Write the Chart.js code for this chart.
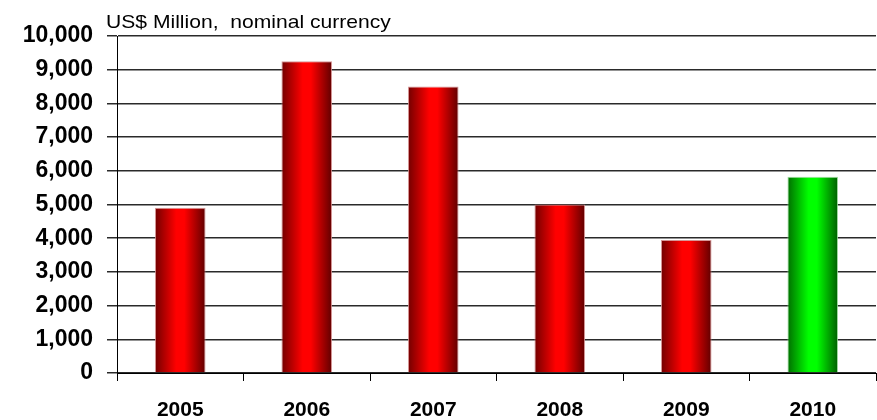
<!DOCTYPE html>
<html>
<head>
<meta charset="utf-8">
<title>Investment</title>
<script src="https://cdn.jsdelivr.net/npm/chart.js@4.4.0/dist/chart.umd.min.js"></script>
<style>
    html, body { margin: 0; padding: 0; background: #fff; }
    #wrap { width: 877px; height: 420px; position: relative; }
</style>
</head>
<body>
<div id="wrap"><canvas id="showGraphInvest"></canvas></div>
<script>
var years  = ['2005', '2006', '2007', '2008', '2009', '2010'];
var values = [4900, 9250, 8500, 5000, 3950, 5820];
var yTicks = [0, 1000, 2000, 3000, 4000, 5000, 6000, 7000, 8000, 9000, 10000];
var unitsLabel = 'US$ Million,  nominal currency';
var highlightYear = '2010';

var myChartInvest;

// cylinder-like shading across each bar
function barGradient(ctx) {
    var chart = ctx.chart;
    if (!chart.chartArea || ctx.dataIndex === undefined) return '#ff0000';
    var xs = chart.scales.x;
    var cx = xs.getPixelForValue(ctx.dataIndex);
    var half = (xs.width / years.length) * 0.4 / 2;
    var g = chart.ctx.createLinearGradient(cx - half, 0, cx + half, 0);
    if (years[ctx.dataIndex] === highlightYear) {
        g.addColorStop(0, '#006e00');
        g.addColorStop(0.42, '#00ff00');
        g.addColorStop(0.58, '#00ff00');
        g.addColorStop(1, '#005e00');
    } else {
        g.addColorStop(0, '#720000');
        g.addColorStop(0.42, '#ff0000');
        g.addColorStop(0.58, '#ff0000');
        g.addColorStop(1, '#600000');
    }
    return g;
}

// units caption above the value axis
var unitsTitle = {
    id: 'unitsTitle',
    afterDraw: function (chart) {
        var c = chart.ctx;
        c.save();
        c.font = '19px "Liberation Sans", Arial, sans-serif';
        c.fillStyle = '#000';
        c.textBaseline = 'alphabetic';
        c.textAlign = 'left';
        c.translate(106, 28);
        c.scale(1.11, 1);
        c.fillText(unitsLabel, 0, 0);
        c.restore();
    }
};

function showInvestData() {
    var data = {
        labels: years,
        datasets: [{
            data: values,
            backgroundColor: barGradient,
            borderColor: function (ctx) {
                return years[ctx.dataIndex] === highlightYear ? 'rgba(150,220,150,0.9)' : 'rgba(210,140,140,0.9)';
            },
            borderWidth: 1,
            barPercentage: 0.4,
            categoryPercentage: 1.0
        }]
    };
    var config = {
        type: 'bar',
        data: data,
        plugins: [unitsTitle],
        options: {
            responsive: true,
            maintainAspectRatio: false,
            animation: false,
            layout: { padding: { top: 36, right: 1, left: 0, bottom: 0 } },
            plugins: {
                legend: { display: false },
                tooltip: { enabled: false }
            },
            scales: {
                x: {
                    offset: true,
                    afterFit: function (axis) { axis.height = 47; },
                    grid: {
                        offset: true,
                        drawOnChartArea: true,
                        color: function (ctx) {
                            return ctx.index === years.length ? '#000' : 'rgba(0,0,0,0)';
                        },
                        tickColor: '#000',
                        tickLength: 8,
                        lineWidth: 1
                    },
                    border: { display: true, color: '#000', width: 1 },
                    ticks: {
                        color: '#000',
                        padding: 17,
                        font: { family: '"Liberation Sans", Arial, sans-serif', size: 21, weight: 'bold' }
                    }
                },
                y: {
                    min: 0,
                    max: 10000,
                    afterBuildTicks: function (axis) {
                        axis.ticks = yTicks.map(function (v) { return { value: v }; });
                    },
                    afterFit: function (axis) { axis.width = 117; },
                    grid: {
                        color: '#2a2a2a',
                        tickColor: '#2a2a2a',
                        tickLength: 10,
                        lineWidth: 1.5
                    },
                    border: { display: true, color: '#000', width: 1 },
                    ticks: {
                        color: '#000',
                        padding: 14,
                        font: { family: '"Liberation Sans", Arial, sans-serif', size: 23, weight: 'bold' },
                        callback: function (v) { return v.toLocaleString('en-US'); }
                    }
                }
            }
        }
    };
    if (myChartInvest) {
        myChartInvest.destroy();
    }
    myChartInvest = new Chart(
        document.querySelector('#showGraphInvest').getContext('2d'),
        config
    );
}

showInvestData();
</script>
</body>
</html>
